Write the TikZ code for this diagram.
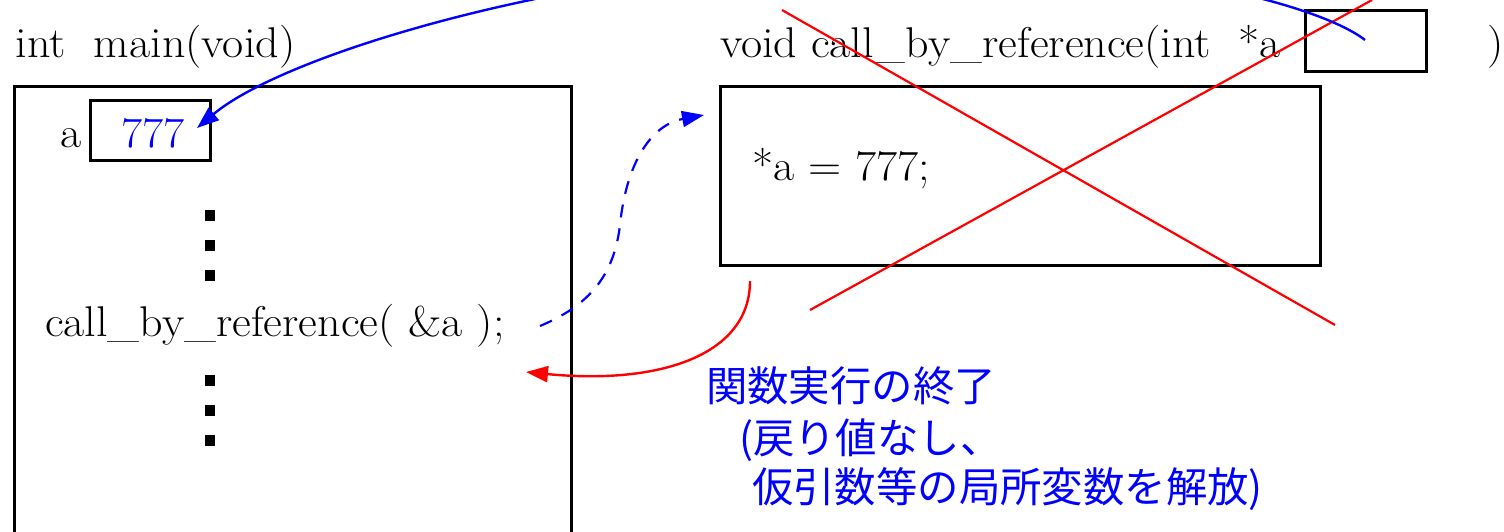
\documentclass[tikz,border=0pt]{standalone}
\usepackage{fontspec}
\usepackage{graphicx}
\newfontfamily\jpfont{Noto Sans CJK JP}
\usetikzlibrary{arrows.meta}
\newcommand\srf[1]{\scalebox{1.07}[1]{\fontsize{21.5}{25}\selectfont #1}}
\begin{document}
\begin{tikzpicture}[x=0.5pt,y=-0.5pt,
  box/.style={draw, line width=1.5pt, inner sep=0pt, outer sep=0pt},
  code/.style={anchor=base west, inner sep=0pt, outer sep=0pt},
  dotsq/.style={fill=black, minimum size=5.3pt, inner sep=0pt, outer sep=0pt},
  jp/.style={anchor=west, inner sep=0pt, outer sep=0pt, text=blue,
    font=\jpfont\fontsize{20.7}{24}\selectfont, text height=18pt, text depth=2.5pt},
  tipped/.style={-{Triangle[length=11pt,width=8pt]}},
  bluecurve/.style={draw=blue, line width=1.2pt, tipped},
  bluedash/.style={draw=blue, line width=1.1pt, dash pattern=on 6.5pt off 5.5pt, tipped},
  redcurve/.style={draw=red, line width=1.2pt, tipped},
  cross/.style={draw=red, line width=1.1pt}]
\useasboundingbox (0,0) rectangle (1504,531);
\clip (0,0) rectangle (1504,531);

% boxes
\node[box, anchor=north west, minimum width=278.25pt, minimum height=237pt] (mainbox) at (14.5,86) {};
\node[box, anchor=north west, minimum width=60pt, minimum height=30pt] (vbox) at (90,100) {};
\node[box, anchor=north west, minimum width=300pt, minimum height=89.5pt] (fbox) at (720,86) {};
\node[box, anchor=north west, minimum width=60.5pt, minimum height=30.5pt] (pbox) at (1305,10) {};

% texts
\node[code] (maintitle) at (16,57) {\srf{int~~main(void)}};
\node[code] (ftitle) at (720,57) {\srf{void call\_by\_reference(int~~*a}};
\node[code] (fclose) at (1487,57) {\srf{)}};
\node[code] (alabel) at (61,147) {\srf{a}};
\node[code] (aval) at (121,147) {\srf{\color{blue}777}};
\node[code] (calltxt) at (45,336) {\srf{call\_by\_reference( \&a );}};
\node[code] (assign) at (752,180) {\srf{*a = 777;}};

% dots
\node[dotsq] (d1) at (210,215.5) {};
\node[dotsq] (d2) at (210,245.5) {};
\node[dotsq] (d3) at (210,275.5) {};
\node[dotsq] (d4) at (210,380.5) {};
\node[dotsq] (d5) at (210,410.5) {};
\node[dotsq] (d6) at (210,440.5) {};

% Japanese note
\node[jp] (note1) at (706,386) {関数実行の終了};
\node[jp] (note2) at (739,438) {(戻り値なし、};
\node[jp] (note3) at (752,487) {仮引数等の局所変数を解放)};

% red cross
\coordinate (xa1) at (782,10);
\coordinate (xa2) at (1335,325);
\coordinate (xb1) at (810,310);
\coordinate (xb2) at (1372,0);
\draw[cross] (xa1) -- (xa2);
\draw[cross] (xb1) -- (xb2);

% connectors
\coordinate (pstart) at (1365,40);
\coordinate (vtip) at (197,128);
\draw[bluecurve] (pstart) .. controls (1320,5) and (1150,-40) .. (900,-40)
  .. controls (600,-40) and (290,50) .. (vtip);

\coordinate (callend) at (540,326);
\coordinate (ftip) at (704,115);
\draw[bluedash] (callend) .. controls (590,305) and (614,275) .. (620,225)
  .. controls (626,165) and (650,125) .. (ftip);

\coordinate (fend) at (750,281);
\coordinate (rtip) at (526,372);
\draw[redcurve] (fend) .. controls (750,355) and (660,385) .. (rtip);
\end{tikzpicture}
\end{document}
